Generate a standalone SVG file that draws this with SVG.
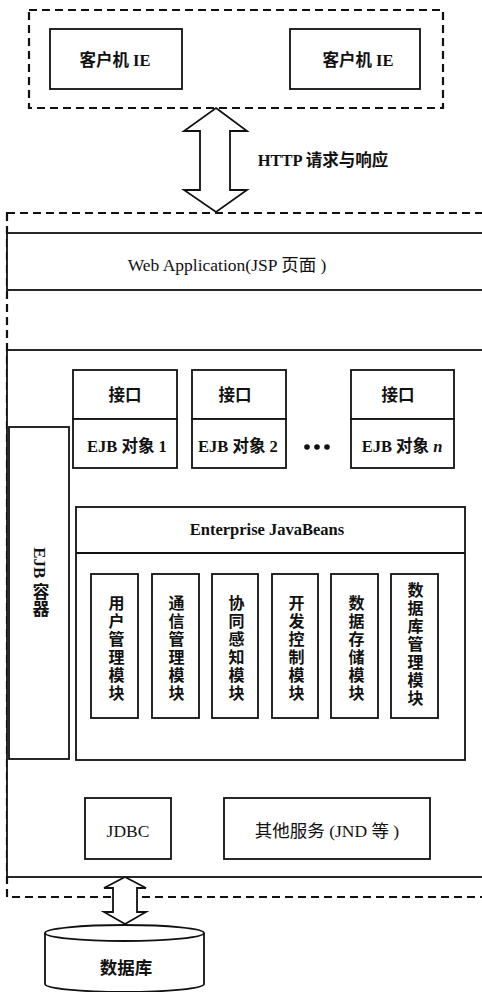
<svg xmlns="http://www.w3.org/2000/svg" width="482" height="992" viewBox="0 0 482 992">
<style>
  .bg{fill:#fff}
  .box{fill:#fff;stroke:#111;stroke-width:1.8}
  .dash{fill:none;stroke:#111;stroke-width:2.2;stroke-dasharray:8 5}
  .arrow{fill:#fff;stroke:#111;stroke-width:1.8;stroke-linejoin:miter}
  text{font-family:"Liberation Serif","Noto Sans CJK SC",serif;font-size:16.5px;fill:#111;text-anchor:middle;dominant-baseline:central}
  .b{font-weight:bold}
  .v{writing-mode:vertical-rl;letter-spacing:2px;font-size:16px;font-weight:bold}
  .big{font-size:17.5px}
</style>
<rect class="bg" x="0" y="0" width="482" height="992"/>

<g id="clients">
  <rect class="dash" x="29" y="10" width="414" height="98"/>
  <g id="client1">
    <rect class="box" x="50" y="29" width="132" height="60"/>
    <text class="b" x="115" y="60">客户机 IE</text>
  </g>
  <g id="client2">
    <rect class="box" x="290" y="29" width="130" height="60"/>
    <text class="b" x="358" y="60">客户机 IE</text>
  </g>
</g>

<g id="server">
  <rect class="dash" x="7" y="213" width="490" height="684"/>
  <g id="webapp">
    <rect class="box" x="7" y="233" width="490" height="57"/>
    <text class="big" x="227" y="265">Web Application(JSP 页面 )</text>
  </g>
  <rect id="ejb-server" class="box" x="7" y="350" width="490" height="527"/>
</g>

<g id="ejb-container">
  <rect class="box" x="9" y="427" width="60" height="332"/>
  <text class="b" x="39" y="582" style="writing-mode:vertical-rl;font-size:17px">EJB 容器</text>
</g>

<g id="ejb1">
  <rect class="box" x="73" y="370" width="104" height="49"/>
  <rect class="box" x="73" y="419" width="104" height="49"/>
  <text class="b" x="125" y="395">接口</text>
  <text class="b" x="127" y="446">EJB 对象 1</text>
</g>
<g id="ejb2">
  <rect class="box" x="192" y="370" width="94" height="49"/>
  <rect class="box" x="192" y="419" width="94" height="49"/>
  <text class="b" x="235" y="395">接口</text>
  <text class="b" x="238" y="446">EJB 对象 2</text>
</g>
<g id="dots">
  <circle cx="307" cy="447" r="2.8" fill="#111"/>
  <circle cx="317" cy="447" r="2.8" fill="#111"/>
  <circle cx="327" cy="447" r="2.8" fill="#111"/>
</g>
<g id="ejbn">
  <rect class="box" x="351" y="370" width="103" height="49"/>
  <rect class="box" x="351" y="419" width="103" height="49"/>
  <text class="b" x="398" y="395">接口</text>
  <text class="b" x="402" y="446">EJB 对象 <tspan font-style="italic">n</tspan></text>
</g>

<g id="enterprise-javabeans">
  <rect class="box" x="76" y="507" width="389" height="253"/>
  <line x1="76" y1="553" x2="465" y2="553" stroke="#111" stroke-width="1.8"/>
  <text class="b" x="267" y="529">Enterprise JavaBeans</text>
</g>

<g id="mod1">
  <rect class="box" x="91" y="574" width="47" height="144"/>
  <text class="v" x="115" y="649">用户管理模块</text>
</g>
<g id="mod2">
  <rect class="box" x="152" y="574" width="47" height="144"/>
  <text class="v" x="175" y="649">通信管理模块</text>
</g>
<g id="mod3">
  <rect class="box" x="212" y="574" width="46" height="144"/>
  <text class="v" x="235" y="649">协同感知模块</text>
</g>
<g id="mod4">
  <rect class="box" x="272" y="574" width="46" height="144"/>
  <text class="v" x="295" y="649">开发控制模块</text>
</g>
<g id="mod5">
  <rect class="box" x="331" y="574" width="47" height="144"/>
  <text class="v" x="355" y="649">数据存储模块</text>
</g>
<g id="mod6">
  <rect class="box" x="391" y="574" width="47" height="144"/>
  <text class="v" x="414" y="645">数据库管理模块</text>
</g>

<g id="jdbc">
  <rect class="box" x="85" y="798" width="86" height="61"/>
  <text class="big" x="128" y="831">JDBC</text>
</g>
<g id="other-services">
  <rect class="box" x="224" y="798" width="206" height="61"/>
  <text class="big" x="327" y="831">其他服务 (JND 等 )</text>
</g>

<g id="database">
  <path class="box" d="M45,933 V984 A79.5,8 0 0 0 204,984 V933"/>
  <ellipse class="box" cx="124.5" cy="933" rx="79.5" ry="8"/>
  <text class="b big" x="126" y="968">数据库</text>
</g>

<g id="connectors">
  <polygon class="arrow" points="216,108 247,131 230,131 230,190 247,190 216,212 184,190 200,190 200,131 184,131"/>
  <text class="b" x="323" y="160">HTTP 请求与响应</text>
  <polygon class="arrow" points="125,877 146,888 137,888 137,912 146,912 125,924 104,912 113,912 113,888 104,888"/>
</g>
</svg>
